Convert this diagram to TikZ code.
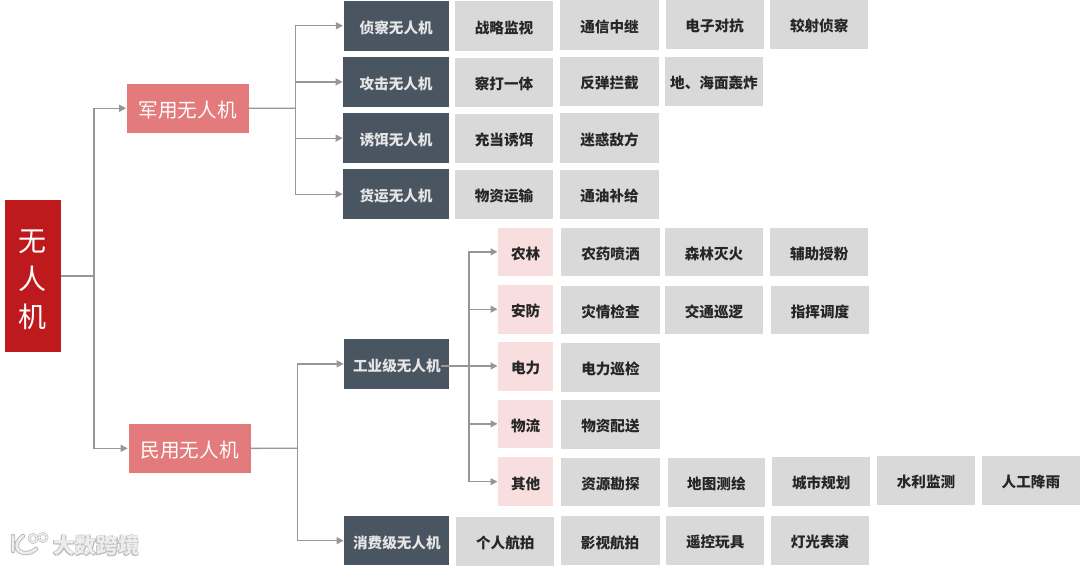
\documentclass[tikz,border=0pt]{standalone}
\usepackage{fontspec}
\setmainfont{Noto Sans CJK SC}
\usetikzlibrary{arrows.meta}
\definecolor{cRoot}{HTML}{BE1A1D}
\definecolor{cSalmon}{HTML}{E37B7C}
\definecolor{cDark}{HTML}{4A5562}
\definecolor{cGray}{HTML}{D9D9D9}
\definecolor{cPink}{HTML}{F8DEDF}
\definecolor{cLine}{HTML}{979797}
\tikzset{
  boxbase/.style={inner sep=0pt,outer sep=0pt,align=center},
  rootbox/.style={boxbase,fill=cRoot,text=white,font=\fontsize{28}{38}\selectfont},
  tierbox/.style={boxbase,fill=cSalmon,text=white,font=\fontsize{19.6}{23}\selectfont},
  darkbox/.style={boxbase,fill=cDark,text=white!90!black,font=\fontsize{14.6}{17}\selectfont\bfseries},
  graybox/.style={boxbase,fill=cGray,text=black!85,font=\fontsize{14.6}{17}\selectfont\bfseries},
  pinkbox/.style={boxbase,fill=cPink,text=black!85,font=\fontsize{14.6}{17}\selectfont\bfseries},
  conn/.style={draw=cLine,line width=1.3pt},
  arr/.style={conn,-{Triangle[length=7pt,width=7pt,fill=cLine]},shorten >=0.8pt},
  wmshadow/.style={inner sep=0pt,text=black!28,font=\fontsize{21.6}{24}\selectfont\bfseries},
  wmtext/.style={inner sep=0pt,text=white!93!black,font=\fontsize{21.6}{24}\selectfont\bfseries},
}
% name, style, x0, y0, x1, y1, text
\newcommand\bx[7]{%
  \pgfmathsetmacro\bxw{#5-#3}\pgfmathsetmacro\bxh{#6-#4}%
  \pgfmathsetmacro\bxcx{(#3+#5)/2}\pgfmathsetmacro\bxcy{(#4+#6)/2}%
  \node[#2,minimum width=\bxw pt,minimum height=\bxh pt] (#1) at (\bxcx,\bxcy) {\raisebox{\dimexpr-0.38em-1.8pt}[0pt][0pt]{#7}};}
\begin{document}
\begin{tikzpicture}[x=1pt,y=-1pt]
\useasboundingbox (0,0) rectangle (1080,566);
% level 0-1
\bx{root}{rootbox}{5}{200}{60.5}{352}{\begin{tabular}{@{}c@{}}无\\人\\机\end{tabular}}
\bx{mil}{tierbox}{127}{83.5}{248.5}{133}{军用无人机}
\bx{civ}{tierbox}{128.5}{423.7}{251}{473}{民用无人机}
% military
\bx{m1}{darkbox}{343.7}{1}{448.7}{50.5}{侦察无人机}
\bx{m2}{darkbox}{343.4}{57.3}{448.7}{106.5}{攻击无人机}
\bx{m3}{darkbox}{343.4}{113.3}{448.7}{163}{诱饵无人机}
\bx{m4}{darkbox}{343.4}{169.3}{448.7}{219}{货运无人机}
\bx{a11}{graybox}{455}{1}{553}{51}{战略监视}
\bx{a12}{graybox}{560.3}{0}{658.8}{49.5}{通信中继}
\bx{a13}{graybox}{665.7}{0}{763.5}{49}{电子对抗}
\bx{a14}{graybox}{770.4}{0}{868}{49}{较射侦察}
\bx{a21}{graybox}{455}{58}{553}{107}{察打一体}
\bx{a22}{graybox}{560.3}{57}{658.8}{106}{反弹拦截}
\bx{a23}{graybox}{665}{57}{763}{106}{地、海面轰炸}
\bx{a31}{graybox}{455}{114}{553}{163}{充当诱饵}
\bx{a32}{graybox}{560.3}{113}{658.8}{163}{迷惑敌方}
\bx{a41}{graybox}{455}{170}{553}{219}{物资运输}
\bx{a42}{graybox}{560.3}{170}{658.8}{219}{通油补给}
% civil
\bx{c1}{darkbox}{344.4}{339}{449.3}{388.7}{工业级无人机}
\bx{c2}{darkbox}{344.4}{516.3}{449.3}{565}{消费级无人机}
\bx{p1}{pinkbox}{498.3}{227.7}{553}{276}{农林}
\bx{p2}{pinkbox}{498.3}{284.7}{553}{333.7}{安防}
\bx{p3}{pinkbox}{498.3}{342.3}{553}{390.7}{电力}
\bx{p4}{pinkbox}{498.3}{399.7}{553}{448}{物流}
\bx{p5}{pinkbox}{498.3}{457.3}{553}{506}{其他}
\bx{b11}{graybox}{561.4}{227.7}{659.5}{276}{农药喷洒}
\bx{b12}{graybox}{665}{227.7}{763}{276}{森林灭火}
\bx{b13}{graybox}{770.4}{227.7}{868}{276}{辅助授粉}
\bx{b21}{graybox}{561.4}{285.5}{659.5}{334}{灾情检查}
\bx{b22}{graybox}{665}{285.5}{763}{334}{交通巡逻}
\bx{b23}{graybox}{771}{285.5}{869}{334}{指挥调度}
\bx{b31}{graybox}{561.4}{343}{659.5}{391.7}{电力巡检}
\bx{b41}{graybox}{561.4}{400}{659.5}{449}{物资配送}
\bx{b51}{graybox}{561.4}{458}{659.5}{506}{资源勘探}
\bx{b52}{graybox}{667.8}{458}{765}{507}{地图测绘}
\bx{b53}{graybox}{772.4}{456.7}{870}{505.7}{城市规划}
\bx{b54}{graybox}{877}{456}{975}{504.5}{水利监测}
\bx{b55}{graybox}{981.8}{456}{1080}{504.5}{人工降雨}
\bx{d1}{graybox}{456.3}{516.7}{554.3}{566}{个人航拍}
\bx{d2}{graybox}{560.7}{516.3}{659.5}{565.3}{影视航拍}
\bx{d3}{graybox}{666.4}{516}{764}{565}{遥控玩具}
\bx{d4}{graybox}{771}{516}{869}{565}{灯光表演}
% junctions
\coordinate (j0) at (94,276);
\coordinate (j1) at (295.5,108.2);
\coordinate (j2) at (297.2,448.3);
\coordinate (j3) at (469,366);
\coordinate (c1out) at (441,366);
% connectors
\draw[conn] (root.east) -- (j0);
\draw[arr] (j0) |- (mil.west);
\draw[arr] (j0) |- (civ.west);
\draw[conn] (mil.east) -- (j1);
\draw[arr] (j1) |- (m1.west);
\draw[arr] (j1) |- (m2.west);
\draw[arr] (j1) |- (m3.west);
\draw[arr] (j1) |- (m4.west);
\draw[conn] (civ.east) -- (j2);
\draw[arr] (j2) |- (c1.west);
\draw[arr] (j2) |- (c2.west);
\draw[conn] (c1out) -- (j3);
\draw[arr] (j3) |- (p1.west);
\draw[arr] (j3) |- (p2.west);
\draw[arr] (j3) -- (j3 -| p3.west);
\draw[arr] (j3) |- (p4.west);
\draw[arr] (j3) |- (p5.west);
% watermark
\foreach \dx/\dy [count=\i] in {0.8/0.8,-0.5/0.6,0.6/-0.4,-0.4/-0.4}{
  \node[wmshadow] (wms\i) at (96.5+\dx,545.5+\dy) {大数跨境};
}
\node[wmtext] (wmt) at (96.5,545.5) {大数跨境};
\foreach \c/\w in {black!30/4.4,white!93!black/2.8}{
  \draw[draw=\c,line width=\w pt,line cap=round,line join=round]
    (13,536) -- (13,551)
    (23,536) .. controls (16,541) and (15,548) .. (19,551) .. controls (24,555) and (32,553) .. (36,549);
  \draw[draw=\c,line width=0.6*\w pt] (33,538.5) circle (4) (43,537.5) circle (4);
}
\end{tikzpicture}
\end{document}
